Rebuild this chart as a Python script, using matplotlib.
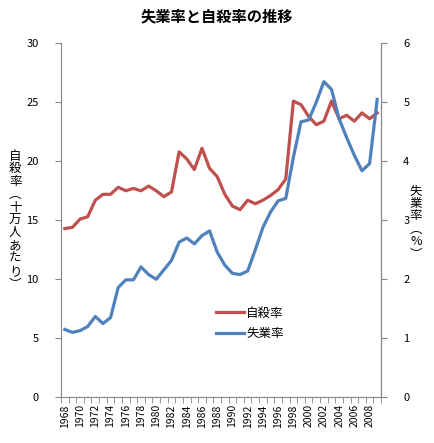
import matplotlib
matplotlib.use("Agg")
import matplotlib.pyplot as plt
from matplotlib.ticker import FixedLocator

plt.rcParams['font.family'] = ['Noto Sans CJK JP', 'DejaVu Sans']

years = list(range(1968, 2010))
suicide = [14.3, 14.4, 15.1, 15.3, 16.7, 17.2, 17.2, 17.8, 17.5, 17.7,
           17.5, 17.9, 17.5, 17.0, 17.4, 20.8, 20.2, 19.3, 21.1, 19.4,
           18.7, 17.2, 16.2, 15.9, 16.7, 16.4, 16.7, 17.1, 17.6, 18.5,
           25.1, 24.8, 23.8, 23.1, 23.4, 25.1, 23.6, 23.9, 23.4, 24.1,
           23.6, 24.1]
unemp = [1.15, 1.1, 1.13, 1.2, 1.37, 1.25, 1.35, 1.86, 1.99, 1.99,
         2.21, 2.08, 2.0, 2.16, 2.32, 2.63, 2.7, 2.6, 2.74, 2.82,
         2.46, 2.24, 2.1, 2.08, 2.14, 2.5, 2.88, 3.14, 3.33, 3.37,
         4.07, 4.67, 4.7, 5.0, 5.35, 5.22, 4.72, 4.4, 4.1, 3.84,
         3.96, 5.05]

title = "失業率と自殺率の推移"
left_label = "自殺率︵十万人あたり︶"
right_label = "失業率︵%︶"
red = "#C0504D"
blue = "#4F81BD"
gray = "#868686"

fig = plt.figure(figsize=(4.34, 4.43), dpi=100)
ax = fig.add_axes([0.1406, 0.1032, 0.7373, 0.7991])
ax2 = ax.twinx()

x = list(range(len(years)))
l1, = ax.plot(x, suicide, color=red, lw=2.3, label="自殺率", solid_joinstyle='round')
l2, = ax2.plot(x, unemp, color=blue, lw=2.3, label="失業率", solid_joinstyle='round')

ax.set_xlim(-0.5, len(years) - 0.5)
ax.set_ylim(0, 30)
ax2.set_ylim(0, 6)
ax.set_yticks(range(0, 31, 5))
ax2.set_yticks(range(0, 7))

ax.xaxis.set_major_locator(FixedLocator(x[::2]))
ax.set_xticklabels([str(y) for y in years[::2]], rotation=90, fontsize=7.5)
ax.xaxis.set_minor_locator(FixedLocator([i - 0.5 for i in range(len(years) + 1)]))
ax.tick_params(axis='x', which='major', length=0, pad=5)
ax.tick_params(axis='x', which='minor', length=4, color=gray, direction='out')

for a in (ax, ax2):
    for s in a.spines.values():
        s.set_color(gray)
    a.spines['top'].set_visible(False)
ax.tick_params(axis='y', length=4, color=gray, labelsize=8, pad=12)
ax2.tick_params(axis='y', length=4, color=gray, labelsize=8, pad=12)
ax2.spines['left'].set_visible(False)
ax2.spines['bottom'].set_visible(False)

fig.text(0.5, 0.962, title, ha='center', va='center', fontsize=11, fontweight='bold')
fig.text(0.035, 0.503, "\n".join(left_label), ha='center', va='center', fontsize=9, linespacing=0.98)
fig.text(0.958, 0.498, "\n".join(right_label), ha='center', va='center', fontsize=9, linespacing=0.98)

ax.legend(handles=[l1, l2], loc='upper left', bbox_to_anchor=(0.47, 0.27),
          frameon=False, fontsize=9, handlelength=2.2, handletextpad=0.2,
          labelspacing=0.6, borderaxespad=0)

fig.savefig("out.png", dpi=100)
